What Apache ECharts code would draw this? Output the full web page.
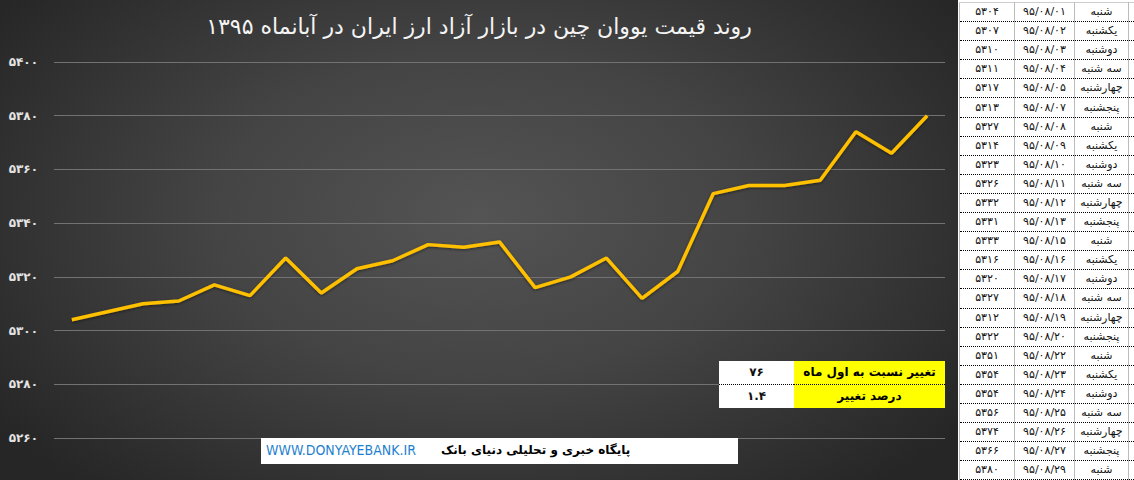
<!DOCTYPE html>
<html><head><meta charset="utf-8">
<script src="https://cdn.jsdelivr.net/npm/echarts@6/dist/echarts.min.js"></script>
<style>
html,body{margin:0;padding:0;width:1134px;height:480px;overflow:hidden;background:#fff;font-family:"DejaVu Sans",sans-serif;}
#wrap{position:relative;width:1134px;height:480px;}
#chart{position:absolute;left:0;top:0;width:958px;height:480px;
 background:radial-gradient(ellipse 62% 75% at 50% 45%, #545454 0%, #444 45%, #2e2e2e 85%, #262626 100%);}
#tbl{position:absolute;left:959px;top:2px;width:175px;border-collapse:collapse;font-size:11px;color:#111;background:#fff;table-layout:fixed;}
#tbl td{height:18.1px;padding:0;text-align:center;border-left:1px solid #bbb;border-right:1px solid #bbb;border-bottom:1px dotted #000;white-space:nowrap;overflow:hidden;line-height:18px;}
#tbl tr:first-child td{border-top:1px solid #ccc;}
#info{position:absolute;left:719px;top:361px;width:226px;border-collapse:collapse;font-size:12px;font-weight:bold;table-layout:fixed;}
#info td{height:23px;padding:0;text-align:center;line-height:23px;}
#info td.v{background:#fff;color:#111;width:75px;}
#info td.l{background:#ffff00;color:#000;direction:rtl;}
#info tr:first-child td{border-bottom:1px dotted #000;}
#foot{position:absolute;left:261px;top:438px;width:477px;height:26px;background:#fff;}
#foot .url{position:absolute;left:5px;top:4px;font-size:14px;color:#1e7fd0;font-family:"DejaVu Sans Condensed","DejaVu Sans",sans-serif;}
#foot .fa{position:absolute;left:180px;top:5px;font-size:12px;font-weight:bold;color:#000;direction:rtl;}
</style></head>
<body>
<div id="wrap">
<div id="chart"></div>
<table id="tbl"><colgroup><col style="width:55px"><col style="width:60px"><col style="width:54px"><col style="width:6px"></colgroup><tbody></tbody></table>
<table id="info"><tbody></tbody></table>
<div id="foot"><span class="url"></span><span class="fa"></span></div>
</div>
<script>
var titleText = 'روند قیمت یووان چین در بازار آزاد ارز ایران در آبانماه ۱۳۹۵';
var days = ['شنبه','یکشنبه','دوشنبه','سه شنبه','چهارشنبه','پنجشنبه','شنبه','یکشنبه','دوشنبه','سه شنبه','چهارشنبه','پنجشنبه','شنبه','یکشنبه','دوشنبه','سه شنبه','چهارشنبه','پنجشنبه','شنبه','یکشنبه','دوشنبه','سه شنبه','چهارشنبه','پنجشنبه','شنبه'];
var dates = ['95/08/01','95/08/02','95/08/03','95/08/04','95/08/05','95/08/07','95/08/08','95/08/09','95/08/10','95/08/11','95/08/12','95/08/13','95/08/15','95/08/16','95/08/17','95/08/18','95/08/19','95/08/20','95/08/22','95/08/23','95/08/24','95/08/25','95/08/26','95/08/27','95/08/29'];
var prices = [5304,5307,5310,5311,5317,5313,5327,5314,5323,5326,5332,5331,5333,5316,5320,5327,5312,5322,5351,5354,5354,5356,5374,5366,5380];
var yTicks = [5260,5280,5300,5320,5340,5360,5380,5400];
var infoLabels = ['تغییر نسبت به اول ماه','درصد تغییر'];
var infoValues = ['76','1.4'];
var footUrl = 'WWW.DONYAYEBANK.IR';
var footText = 'پایگاه خبری و تحلیلی دنیای بانک';

function fa(s){return String(s).replace(/[0-9]/g,function(d){return '۰۱۲۳۴۵۶۷۸۹'[+d];});}

var tb = document.querySelector('#tbl tbody');
for (var i=0;i<prices.length;i++){
  var tr=document.createElement('tr');
  var c1=document.createElement('td'); c1.textContent=fa(prices[i]);
  var c2=document.createElement('td'); c2.textContent=fa(dates[i]); c2.style.direction='ltr';
  var c3=document.createElement('td'); c3.textContent=days[i]; c3.style.direction='rtl';
  var c4=document.createElement('td');
  tr.appendChild(c1);tr.appendChild(c2);tr.appendChild(c3);tr.appendChild(c4);
  tb.appendChild(tr);
}
var ib=document.querySelector('#info tbody');
for (var j=0;j<infoLabels.length;j++){
  var r=document.createElement('tr');
  var v=document.createElement('td'); v.className='v'; v.textContent=fa(infoValues[j]);
  var l=document.createElement('td'); l.className='l'; l.textContent=infoLabels[j];
  r.appendChild(v); r.appendChild(l); ib.appendChild(r);
}
document.querySelector('#foot .url').textContent=footUrl;
document.querySelector('#foot .fa').textContent=footText;

var chart = echarts.init(document.getElementById('chart'), null, {renderer:'svg'});
chart.setOption({
  backgroundColor:'transparent',
  animation:false,
  title:{text:titleText,left:'center',top:10,textStyle:{color:'#f4f4f4',fontSize:22,fontWeight:'normal',fontFamily:'DejaVu Sans'}},
  grid:{left:54,right:13,top:62,bottom:42,containLabel:false},
  xAxis:{type:'category',data:dates,boundaryGap:true,axisLine:{show:false},axisTick:{show:false},axisLabel:{show:false},splitLine:{show:false}},
  yAxis:{type:'value',min:yTicks[0],max:yTicks[yTicks.length-1],interval:20,
    axisLine:{show:false},axisTick:{show:false},
    axisLabel:{margin:16,color:'#e4e4e4',fontSize:12,fontWeight:'bold',fontFamily:'DejaVu Sans',formatter:function(v){return fa(v);}},
    splitLine:{lineStyle:{color:'#727272',width:1}}},
  series:[{type:'line',data:prices,showSymbol:false,symbol:'none',
    lineStyle:{color:'#FFC000',width:3.5,shadowColor:'rgba(0,0,0,0.5)',shadowBlur:3,shadowOffsetY:1},
    itemStyle:{color:'#FFC000'}}]
});
</script>
</body></html>
